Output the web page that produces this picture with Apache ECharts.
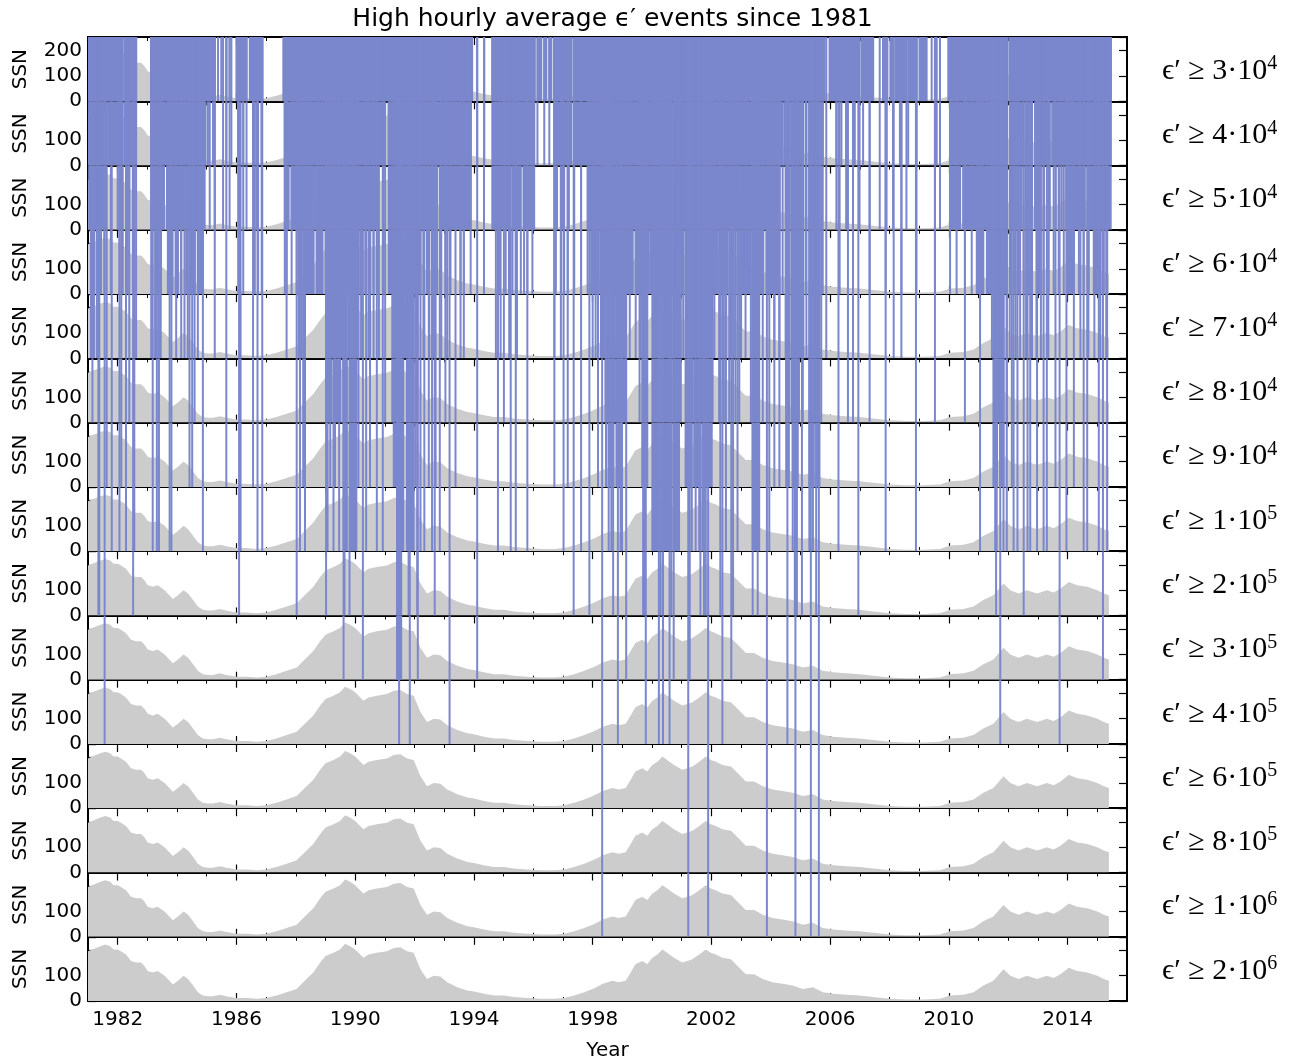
<!DOCTYPE html>
<html>
<head>
<meta charset="utf-8">
<script src="https://cdn.jsdelivr.net/npm/echarts@6/dist/echarts.min.js"></script>
<style>
  html, body { margin: 0; padding: 0; background: #fff; }
  #chart { width: 1309px; height: 1064px; }
</style>
</head>
<body>
<div id="chart"></div>
<script>
const ssnYears = [1981.00, 1981.14, 1981.42, 1981.58, 1981.75, 1981.86, 1982.00, 1982.11, 1982.28, 1982.45,
  1982.62, 1982.79, 1982.90, 1983.01, 1983.18, 1983.35, 1983.58, 1983.86, 1984.03, 1984.22, 1984.37, 1984.54,
  1984.70, 1984.87, 1985.04, 1985.21, 1985.44, 1985.66, 1986.00, 1986.34, 1986.68, 1987.01, 1987.35, 1987.69,
  1988.03, 1988.25, 1988.59, 1988.82, 1989.00, 1989.27, 1989.49, 1989.66, 1989.83, 1990.00, 1990.28, 1990.45,
  1990.73, 1991.07, 1991.30, 1991.52, 1991.75, 1991.97, 1992.20, 1992.42, 1992.65, 1992.87, 1993.10, 1993.44,
  1993.78, 1994.00, 1994.34, 1994.68, 1995.01, 1995.35, 1995.80, 1996.25, 1996.71, 1997.04, 1997.38, 1997.72,
  1998.06, 1998.34, 1998.66, 1998.88, 1999.11, 1999.28, 1999.44, 1999.67, 1999.84, 2000.01, 2000.18, 2000.35,
  2000.51, 2000.74, 2001.02, 2001.19, 2001.36, 2001.59, 2001.81, 2001.98, 2002.15, 2002.37, 2002.66, 2002.94,
  2003.16, 2003.44, 2003.73, 2004.06, 2004.40, 2004.74, 2005.08, 2005.42, 2005.75, 2006.09, 2006.54, 2006.99,
  2007.45, 2008.01, 2008.57, 2009.14, 2009.70, 2010.04, 2010.49, 2010.83, 2011.16, 2011.50, 2011.84, 2012.07,
  2012.35, 2012.63, 2012.97, 2013.30, 2013.53, 2013.76, 2014.04, 2014.32, 2014.66, 2015.00, 2015.22, 2015.39];
const ssnValues = [197, 204, 217, 223, 217, 204, 204, 197, 184, 158,
  152, 152, 139, 119, 113, 119, 100, 65, 80, 100, 87, 61,
  35, 22, 19, 19, 25, 19, 12, 12, 9, 12, 22, 35,
  48, 74, 113, 152, 178, 191, 204, 226, 217, 204, 171, 184,
  191, 197, 210, 213, 197, 191, 126, 87, 100, 97, 74, 55,
  42, 38, 29, 22, 22, 16, 12, 9, 9, 12, 22, 35,
  51, 68, 80, 74, 80, 113, 145, 158, 145, 171, 184, 204,
  191, 171, 152, 158, 165, 184, 204, 191, 184, 171, 165, 132,
  106, 106, 87, 74, 68, 61, 48, 55, 35, 29, 25, 22,
  16, 9, 6, 6, 9, 22, 25, 35, 61, 80, 126, 100,
  87, 100, 87, 100, 91, 106, 132, 119, 113, 100, 87, 80];

// events whose hourly eps' first reaches each threshold (year, or [from, to] for dense runs)
const ev3e4 = [[1981.00, 1981.22], [1981.32, 1981.40], [1981.50, 1982.12], [1982.24, 1982.62], [1983.13, 1983.20],
  [1983.30, 1983.58], [1983.70, 1984.99], 1985.04, 1985.15, 1985.27, 1985.38, 1985.49, 1985.66, 1985.77,
  [1986.00, 1986.06], [1986.17, 1986.34], [1986.45, 1986.52], [1986.62, 1986.88], [1987.58, 1987.64],
  [1987.75, 1987.88], [1987.98, 1988.16], [1988.26, 1989.04], 1989.16, 1989.32, 1989.43, [1989.55, 1989.57],
  [1989.67, 1990.46], [1990.56, 1991.93], [1992.03, 1992.38], [1992.48, 1992.78], [1992.88, 1993.38],
  [1993.48, 1993.94], [1994.62, 1996.05], [1996.15, 1996.27], [1996.37, 1996.44], [1996.54, 1996.61],
  [1996.71, 1997.00], [1997.10, 1997.28], [1997.38, 1998.60], [1998.43, 1999.40], [1999.50, 2004.70],
  [2004.80, 2005.81], [2005.98, 2006.96], [2007.06, 2007.07], [2007.17, 2007.45], [2007.78, 2007.93],
  [2008.03, 2008.10], [2008.20, 2008.33], [2008.43, 2008.55], [2008.65, 2008.91], [2009.01, 2009.25],
  2009.42, 2009.70, [2009.98, 2010.11], [2010.21, 2010.28], [2010.38, 2010.50], [2010.60, 2010.67],
  [2010.77, 2011.95], [2012.04, 2012.91], [2013.00, 2014.04], 2014.21, 2014.43, 2014.66, [2014.88, 2015.45]];
const ev4e4 = [[1981.04, 1981.10], [1981.20, 1981.40], [1981.50, 1981.58], [1981.68, 1982.12], [1982.24, 1982.62],
  [1983.13, 1983.20], [1983.30, 1983.65], [1983.75, 1984.96], 1985.04, 1985.21, 1985.66, 1985.83, 1986.06,
  1986.23, 1986.56, 1986.85, [1987.63, 1987.70], [1987.80, 1988.10], [1988.20, 1988.78], [1988.88, 1989.08],
  1989.25, 1989.40, [1989.55, 1990.13], [1990.23, 1990.47], [1990.57, 1990.69], [1990.79, 1990.96],
  [1991.13, 1993.89], 1994.11, 1994.35, [1994.96, 1996.03], 1996.14, 1996.37, 1996.54, [1996.71, 1997.00],
  [1997.10, 1997.28], [1997.38, 1998.60], [1998.43, 1999.40], [1999.50, 2000.64], [2000.74, 2000.98],
  [2001.08, 2001.43], [2001.53, 2002.11], [2002.21, 2002.45], [2002.55, 2003.24], [2003.34, 2004.29],
  2004.35, 2004.46, 2004.63, 2004.85, 2005.08, 2005.19, 2005.42, 2005.53, 2005.75, 2006.21, 2006.38,
  2006.54, 2006.83, 2007.11, 2007.90, 2008.12, 2008.35, 2008.63, 2008.91, 2009.59, [2010.04, 2010.98],
  [2010.98, 2011.95], 2012.20, 2012.35, 2012.50, 2012.65, 2012.80, [2012.97, 2013.38], [2013.48, 2014.00],
  [2014.00, 2015.45]];
const ev5e4 = [[1981.04, 1981.12], [1981.24, 1981.31], [1981.42, 1981.58], 1982.00, 1982.11, 1982.28, 1982.39,
  [1983.13, 1983.56], [1983.66, 1983.96], [1984.06, 1984.26], [1984.36, 1984.93], 1985.10, 1985.27, 1985.55,
  1985.77, 1986.34, 1986.68, [1987.63, 1987.76], [1987.86, 1988.10], [1988.20, 1988.55], [1988.65, 1989.18],
  [1989.30, 1990.13], [1990.30, 1990.46], [1990.56, 1990.73], [1991.35, 1992.74], [1992.89, 1993.89],
  [1994.62, 1994.75], [1994.87, 1995.20], [1995.32, 1995.55], [1995.67, 1996.03],
  1996.80, 1997.00, 1997.20, [1997.84, 1998.60], [1998.43, 1999.01], [1999.11, 1999.40], [1999.50, 2000.14],
  [2000.24, 2000.64], [2000.74, 2001.43], [2001.53, 2001.60], [2001.70, 2002.45], [2002.55, 2002.95],
  2003.10, 2003.22, [2003.35, 2004.29], 2004.63, 2004.85, 2004.97, 2005.19, 2005.30, 2005.53, 2005.64,
  2006.21, 2006.54, 2006.77, 2006.99, 2007.67, 2007.90, 2008.12, 2008.57, 2009.70, [2010.04, 2010.38],
  [2010.48, 2011.95], 2012.15, 2012.30, 2012.45, 2012.60, 2012.75, 2012.90, 2013.05, 2013.20, 2013.40,
  2013.60, 2013.80, 2013.95, [2014.04, 2014.58], [2014.68, 2015.45]];
const ev6e4 = [1981.10, 1981.21, 1981.44, 1981.55, 1981.77, 1982.06, 1982.17, 1982.34, 1982.51, 1983.16, 1983.35,
  1983.46, [1983.69, 1983.85], [1983.95, 1984.03], 1984.14, 1984.31, [1984.42, 1984.60], [1984.70, 1984.87],
  1986.06, 1986.23, 1986.62, 1986.73, 1986.85, 1987.63, 1987.69, 1987.86, 1988.03, 1988.14,
  [1988.37, 1988.60], [1988.70, 1988.90], [1989.00, 1989.20], [1989.30, 1989.50], [1989.60, 1989.72],
  [1989.84, 1989.94], 1990.06, 1990.17, 1990.34, 1990.51, 1990.62, 1990.73, 1990.96, [1991.13, 1991.62],
  [1991.74, 1992.20], 1992.31, 1992.42, 1992.59, 1992.76, 1992.87, 1993.04, 1993.21, 1993.55, 1993.66,
  1993.89, 1994.34, 1994.85, 1995.07, 1995.18, 1995.30, 1995.41,
  1995.58, 1995.69, 1995.80, 1995.97, 1996.76, 1996.93, 1997.04, 1997.16, 1997.38, 1997.61, 1997.83,
  [1997.95, 1998.15], [1998.25, 1998.50], [1998.60, 1998.94], 1998.99, [1999.11, 1999.35], [1999.45, 1999.89],
  [1999.95, 2000.22], [2000.34, 2000.60], [2000.72, 2001.02], [2001.13, 2001.42], [2001.53, 2001.62],
  [2001.74, 2002.20], [2002.30, 2002.43], 2002.54, 2002.71, 2002.88, [2003.05, 2003.30], [2003.40, 2003.75],
  [2003.85, 2004.29], 2004.40, 2004.57, 2004.74, 2004.91, 2005.08, 2005.19, 2005.36, 2005.53, 2005.64,
  2005.75, 2006.32, 2007.33, 2007.87, 2008.40, 2008.91, 2009.53, 2010.04, 2010.26, 2010.54, 2010.77,
  [2010.94, 2011.16], [2011.28, 2011.62], [2011.72, 2011.95], 2012.07, 2012.23, 2012.35, 2012.52, 2012.69,
  2012.80, [2012.97, 2013.08], 2013.19, 2013.36, 2013.53, 2013.70, 2013.87, [2013.98, 2014.21], 2014.38,
  2014.54, 2014.71, [2014.88, 2015.11], 2015.22, 2015.33];
const ev7e4 = [1981.10, 1981.20, 1981.30, 1982.62, 1983.13, 1983.26, 1983.45, 1983.97, 1984.14, 1984.25, 1984.36,
  1984.70, 1985.27, 1987.69, 1988.10, 1988.20, 1989.24, 1989.55, 1989.78, 1990.06, 1990.20, 1990.45, 1990.62,
  1990.80, 1991.68, 1992.09, 1992.30, 1992.50, 1992.62, 1992.90, 1993.10, 1993.55, 1993.66, 1994.74, 1994.90,
  1995.19, 1995.45, 1996.71, 1996.93, 1998.00, 1998.10, 1998.28, 1998.38, 1998.60, 1998.95, 1999.25, 1999.45,
  1999.62, 2000.50, 2001.05, 2001.38, 2001.90, 2002.10, 2002.30, 2002.50, 2002.65, 2002.80, 2002.95, 2003.00,
  2003.15, 2003.45, 2003.60, 2004.12, 2004.29, 2004.50, 2004.60, 2004.70, 2004.85, 2005.00, 2005.10, 2005.20,
  2005.87, 2008.14, 2008.40, 2011.45, 2012.05, 2012.25, 2012.40, 2012.60, 2012.80, 2012.95, 2013.10, 2013.35,
  2014.43, 2014.70, 2014.90, 2015.10, 2015.30];
const ev8e4 = [1981.15, 1982.39, 1984.59, [1989.02, 1989.20], [1989.30, 1989.50], [1989.60, 1989.70], 1989.95,
  1991.01, 1991.25, 1992.08, 1993.04, 1995.01, [1998.43, 1998.52], 1998.75, [1999.00, 1999.11], 1999.58,
  2000.28, 2000.66, 2000.97, 2001.36, 2001.68, 2002.04, 2002.26, 2002.42, 2002.60, 2002.81, 2002.94,
  2003.33, 2003.73, 2004.52, 2004.62, 2004.70, 2004.95, 2005.08, 2005.49, 2005.70, 2006.60, 2006.77,
  2007.33, 2009.53, 2010.54, 2011.67, 2011.95];
const ev9e4 = [1981.63, 1982.12, 1984.42, 1984.51, 1985.66, 1986.56, 1988.25, 1989.16, 1989.32, 1990.11,
  1990.50, [1991.30, 1991.40], 1992.03, 1992.48, 1992.71, 1993.38, 1996.71, 1997.16, 1998.18, 1998.45,
  [1998.54, 1998.70], [1998.80, 1998.95], [1999.67, 1999.84], [2001.13, 2001.30], [2001.42, 2001.62],
  [2001.74, 2002.01], 2004.12, 2004.29, [2004.52, 2004.61], [2004.74, 2004.91], [2005.30, 2005.45],
  [2005.53, 2005.64], [2011.50, 2011.62], [2011.72, 2011.84], 2012.12, 2013.59, 2014.21];
const ev1e5 = [1981.80, 1982.06, 1982.28, 1982.56, 1983.18, 1983.32, 1983.39, 1983.75, 1983.81, 1984.87,
  1986.14, 1986.71, 1986.87, 1988.14, 1988.31, 1989.07, 1989.27, 1989.46, [1989.61, 1989.72],
  [1989.84, 1990.04], 1990.37, 1990.73, 1990.93, [1991.41, 1991.62], [1991.74, 1991.97], 1992.20, 1992.33,
  1992.59, 1992.85, 1994.81, 1995.24, 1995.41, 1995.80, 1997.02, 1997.61, 1998.54, 1998.63, 1998.94,
  1998.99, [2000.01, 2000.22], [2000.34, 2000.60], [2000.72, 2000.91], 2001.34, 2001.47, 2001.59, 2001.70,
  2002.49, 2002.88, [2003.39, 2003.61], 2003.95, 2004.74, 2005.30, 2005.42, 2006.28, 2007.87, 2008.89,
  2011.05, 2011.56, 2011.61, 2011.84, 2011.95, 2012.18, 2012.31, 2012.65, 2012.74, 2012.97, 2013.19,
  2013.30, 2013.96, 2014.54, 2014.66, 2015.05, 2015.33];
const ev2e5 = [1981.35, 1981.38, 1982.52, 1986.09, 1988.03, 1989.02, 1989.64, 1989.81, 1991.43, 1991.47,
  1991.50, 1991.80, 1992.09, 1992.68, 1997.36, 1997.89, 1998.69, 1999.70, 1999.76, 2000.29, 2000.65,
  2001.63, 2001.75, 2001.81, 2002.30, 2002.73, 2003.39, 2003.56, 2004.81, 2004.88, 2005.05, 2005.53,
  2006.95, 2011.59, 2012.52];
const ev3e5 = [1989.61, 1990.26, 1991.41, 1991.44, 1991.52, 1991.55, 1992.11, 1994.11, 1999.13, 2000.73,
  2001.27, 2002.67, 2015.19];
const ev4e5 = [1981.56, 1991.48, 1991.84, 1993.18, 1998.85, 1999.79, 2000.23, 2000.37, 2000.59, 2002.37,
  2004.56, 2011.73, 2013.73];
const ev6e5 = [];
const ev8e5 = [];
const ev1e6 = [1998.32, 2001.22, 2001.89, 2003.87, 2004.83, 2005.35, 2005.62];
const ev2e6 = [];

// threshold labels: mantissa and exponent
const thrMant = [3, 4, 5, 6, 7, 8, 9, 1, 2, 3, 4, 6, 8, 1, 2];
const thrExp = [4, 4, 4, 4, 4, 4, 4, 5, 5, 5, 5, 5, 5, 6, 6];
const yearTicks = [1982, 1986, 1990, 1994, 1998, 2002, 2006, 2010, 2014];

const levels = [ev3e4, ev4e4, ev5e4, ev6e4, ev7e4, ev8e4, ev9e4, ev1e5, ev2e5, ev3e5, ev4e5, ev6e5, ev8e5, ev1e6, ev2e6];

const BLUE = '#7b87cc';
const GREY = '#cccccc';
const LEFT = 88, WIDTH = 1039, TOP = 37, PH = 64.27;
const YMAX = 254;
const FONT = 'DejaVu Sans';
const N = levels.length;

const chart = echarts.init(document.getElementById('chart'), null, { renderer: 'canvas' });

const grids = [], xAxes = [], yAxes = [], series = [], titles = [];
const ssnData = ssnYears.map((y, k) => [y, ssnValues[k]]);

titles.push({
  text: 'High hourly average ϵ′ events since 1981',
  left: LEFT + WIDTH / 2, top: 2, textAlign: 'center',
  textStyle: { fontFamily: FONT, fontSize: 25, fontWeight: 'normal', color: '#000' }
});

for (let i = 0; i < N; i++) {
  const last = i === N - 1;
  const top = TOP + i * PH;
  grids.push({ left: LEFT, top: top, width: WIDTH, height: PH, containLabel: false });

  const lineStyle = { color: '#000', width: 2 };
  // yearly minor ticks, plus axis line and labels
  ['bottom', 'top'].forEach(pos => {
    xAxes.push({
      gridIndex: i, type: 'value', position: pos, min: 1981, max: 2016, interval: 1,
      axisLine: { show: true, onZero: false, lineStyle: lineStyle },
      axisTick: { show: true, inside: true, length: 4, lineStyle: { color: '#000', width: 1 } },
      splitLine: { show: false },
      axisLabel: {
        show: last && pos === 'bottom', margin: 9, fontFamily: FONT, fontSize: 20, color: '#000',
        formatter: v => (yearTicks.indexOf(v) >= 0 ? String(v) : '')
      },
      name: last && pos === 'bottom' ? 'Year' : '',
      nameLocation: 'middle', nameGap: 40,
      nameTextStyle: { fontFamily: FONT, fontSize: 20, color: '#000' }
    });
  });
  // 4-yearly major ticks
  ['bottom', 'top'].forEach(pos => {
    xAxes.push({
      gridIndex: i, type: 'value', position: pos, min: 1981, max: 2016, interval: 1,
      axisLine: { show: false, onZero: false },
      axisTick: { show: true, inside: true, length: 8, customValues: yearTicks, lineStyle: { color: '#000', width: 1.2 } },
      splitLine: { show: false },
      axisLabel: { show: false }
    });
  });

  yAxes.push({
    gridIndex: i, type: 'value', position: 'left', min: 0, max: YMAX, interval: 100,
    axisLine: { show: true, onZero: false, lineStyle: lineStyle },
    axisTick: { show: true, inside: true, length: 8, lineStyle: { color: '#000', width: 1.2 } },
    splitLine: { show: false },
    axisLabel: {
      margin: 6, fontFamily: FONT, fontSize: 20, color: '#000',
      formatter: v => (v % 100 !== 0 || (v === 200 && i > 0)) ? '' : String(v)
    },
    name: 'SSN', nameLocation: 'middle', nameRotate: 90, nameGap: 57,
    nameTextStyle: { fontFamily: FONT, fontSize: 20, color: '#000' }
  });
  yAxes.push({
    gridIndex: i, type: 'value', position: 'right', min: 0, max: YMAX, interval: 100,
    axisLine: { show: true, onZero: false, lineStyle: lineStyle },
    axisTick: { show: true, inside: true, length: 8, lineStyle: { color: '#000', width: 1.2 } },
    splitLine: { show: false },
    axisLabel: { show: false }
  });

  series.push({
    type: 'line', xAxisIndex: 4 * i, yAxisIndex: 2 * i, data: ssnData,
    symbol: 'none', silent: true, z: 1,
    lineStyle: { width: 0, opacity: 0 },
    areaStyle: { color: GREY, opacity: 1 }
  });

  // all events at or above this panel's threshold
  const spans = levels.slice(i).flat(1).map(e => (Array.isArray(e) ? e : [e, e]));
  series.push({
    type: 'custom', xAxisIndex: 4 * i, yAxisIndex: 2 * i, data: spans,
    dimensions: ['start', 'end'], encode: { x: [0, 1] },
    clip: true, silent: true, z: 2,
    renderItem: (params, api) => {
      const p0 = api.coord([api.value(0), YMAX]);
      const p1 = api.coord([api.value(1), 0]);
      return {
        type: 'rect',
        shape: { x: p0[0] - 1, y: p0[1], width: Math.max(p1[0] - p0[0], 0) + 2, height: p1[1] - p0[1] },
        style: { fill: BLUE }
      };
    }
  });

  titles.push({
    text: '{a|ϵ′ ≥ ' + thrMant[i] + '·10}{s|' + thrExp[i] + '}',
    left: 1157, top: top + 12,
    textStyle: {
      rich: {
        a: { fontFamily: 'Liberation Serif', fontSize: 30, fontWeight: 'normal', color: '#000', lineHeight: 34 },
        s: { fontFamily: 'Liberation Serif', fontSize: 20, fontWeight: 'normal', color: '#000', lineHeight: 20, verticalAlign: 'top' }
      }
    }
  });
}

chart.setOption({
  animation: false,
  backgroundColor: '#fff',
  title: titles,
  grid: grids,
  xAxis: xAxes,
  yAxis: yAxes,
  series: series
});
</script>
</body>
</html>
